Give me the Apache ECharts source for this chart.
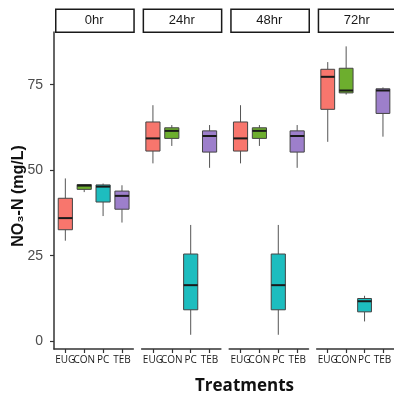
<!DOCTYPE html>
<html>
<head>
<meta charset="utf-8">
<script src="https://cdn.jsdelivr.net/npm/echarts@6/dist/echarts.min.js"></script>
<style>
  html, body { margin: 0; padding: 0; background: #fff; }
  #chart { width: 394px; height: 395px; }
</style>
</head>
<body>
<div id="chart"></div>
<script>
const treatments = ['EUG', 'CON', 'PC', 'TEB']
const times = ['0hr', '24hr', '48hr', '72hr']
const yTicks = [0, 25, 50, 75]

// [min, Q1, median, Q3, max] for EUG, CON, PC, TEB
const box0hr = [
  [29.4, 32.6, 36.0, 41.8, 47.6],
  [43.6, 44.4, 45.5, 45.8, 45.8],
  [36.6, 40.7, 45.2, 45.7, 46.1],
  [34.7, 38.6, 42.5, 43.9, 45.6]
]
const box24hr = [
  [52.0, 55.6, 59.3, 64.1, 69.0],
  [57.1, 59.3, 61.5, 62.4, 63.2],
  [1.9, 9.2, 16.4, 25.5, 34.0],
  [50.7, 55.3, 60.0, 61.5, 63.2]
]
const box48hr = [
  [52.0, 55.6, 59.3, 64.1, 69.0],
  [57.1, 59.3, 61.5, 62.4, 63.2],
  [1.9, 9.2, 16.4, 25.5, 34.0],
  [50.7, 55.3, 60.0, 61.5, 63.2]
]
const box72hr = [
  [58.3, 67.8, 77.3, 79.5, 81.6],
  [72.1, 72.6, 73.3, 79.8, 86.2],
  [5.8, 8.6, 11.7, 12.5, 13.3],
  [59.8, 66.6, 73.3, 73.8, 74.2]
]
const panels = [box0hr, box24hr, box48hr, box72hr]

const colors = ['#F8766D', '#6DAE2E', '#1DBDBF', '#9D7FCB']
const panelLeft = [54, 141.6, 229.2, 316.7]
const panelWidth = 79.3
const plotTop = 32
const plotHeight = 317
// ggplot discrete expansion: 0.6 units each side -> 4.2 units per panel
const unit = panelWidth / 4.2

const chart = echarts.init(document.getElementById('chart'))

function renderBox(params, api) {
  const x = api.value(0)
  const lo = api.coord([x, api.value(1)])
  const q1 = api.coord([x, api.value(2)])
  const med = api.coord([x, api.value(3)])
  const q3 = api.coord([x, api.value(4)])
  const hi = api.coord([x, api.value(5)])
  const w = api.size([0.75, 0])[0]
  const cx = lo[0]
  const whisker = { stroke: '#555', lineWidth: 1 }
  return {
    type: 'group',
    children: [
      { type: 'line', shape: { x1: cx, y1: hi[1], x2: cx, y2: q3[1] }, style: whisker },
      { type: 'line', shape: { x1: cx, y1: q1[1], x2: cx, y2: lo[1] }, style: whisker },
      {
        type: 'rect',
        shape: { x: cx - w / 2, y: q3[1], width: w, height: q1[1] - q3[1] },
        style: { fill: colors[params.dataIndex], stroke: '#444', lineWidth: 1 }
      },
      {
        type: 'line',
        shape: { x1: cx - w / 2, y1: med[1], x2: cx + w / 2, y2: med[1] },
        style: { stroke: '#1a1a1a', lineWidth: 2 }
      }
    ]
  }
}

const grids = []
const xAxes = []
const yAxes = []
const series = []
const graphics = []

panels.forEach((boxes, i) => {
  grids.push({ left: panelLeft[i], top: plotTop, width: panelWidth, height: plotHeight })
  xAxes.push({
    gridIndex: i,
    type: 'value',
    min: 0.4,
    max: 4.6,
    axisLine: { show: true, onZero: false, lineStyle: { color: '#333', width: 1.5 } },
    axisTick: { show: true, customValues: [1, 2, 3, 4], length: 4, lineStyle: { color: '#333', width: 1.2 } },
    axisLabel: { show: false },
    splitLine: { show: false }
  })
  yAxes.push({
    gridIndex: i,
    type: 'value',
    min: -2.26,
    max: 90.4,
    show: i === 0,
    axisLine: { show: true, onZero: false, lineStyle: { color: '#333', width: 1.5 } },
    axisTick: { show: true, customValues: yTicks, length: 4, lineStyle: { color: '#333', width: 1.2 } },
    axisLabel: {
      customValues: yTicks,
      showMinLabel: true,
      showMaxLabel: true,
      margin: 11,
      fontSize: 14,
      color: '#4d4d4d',
      fontFamily: 'Liberation Sans'
    },
    splitLine: { show: false }
  })
  series.push({
    type: 'custom',
    xAxisIndex: i,
    yAxisIndex: i,
    renderItem: renderBox,
    encode: { x: 0, y: [1, 2, 3, 4, 5] },
    data: boxes.map((b, k) => [k + 1].concat(b)),
    silent: true
  })
  // facet strip
  graphics.push({
    type: 'rect',
    left: panelLeft[i] + 1,
    top: 8.5,
    shape: { width: panelWidth - 1, height: 23 },
    style: { fill: '#fff', stroke: '#1a1a1a', lineWidth: 1.5 }
  })
  graphics.push({
    type: 'text',
    x: panelLeft[i] + panelWidth / 2 + 0.5,
    y: 20,
    style: {
      text: times[i],
      align: 'center',
      verticalAlign: 'middle',
      font: '13px "Liberation Sans"',
      fill: '#1a1a1a'
    }
  })
})

// label-only grids: category bands lined up with the box centres
panels.forEach((boxes, i) => {
  const g = grids.length
  grids.push({ left: panelLeft[i] + unit * 0.1, top: plotTop, width: unit * 4, height: plotHeight })
  xAxes.push({
    gridIndex: g,
    type: 'category',
    data: treatments,
    axisLine: { show: false },
    axisTick: { show: false },
    axisLabel: {
      interval: 0,
      margin: 6,
      fontSize: 10,
      color: '#1a1a1a',
      fontFamily: 'Open Sans'
    }
  })
  yAxes.push({ gridIndex: g, type: 'value', show: false, min: 0, max: 1 })
})

graphics.push({
  type: 'text',
  x: 18.5,
  y: 196,
  rotation: Math.PI / 2,
  style: {
    text: 'NO₃-N (mg/L)',
    align: 'center',
    verticalAlign: 'middle',
    font: 'bold 16px "Liberation Sans"',
    fill: '#111'
  }
})
graphics.push({
  type: 'text',
  x: 244.5,
  y: 386,
  style: {
    text: 'Treatments',
    align: 'center',
    verticalAlign: 'middle',
    font: 'bold 17px "Open Sans"',
    fill: '#111'
  }
})

chart.setOption({
  animation: false,
  grid: grids,
  xAxis: xAxes,
  yAxis: yAxes,
  series: series,
  graphic: graphics
})
</script>
</body>
</html>
